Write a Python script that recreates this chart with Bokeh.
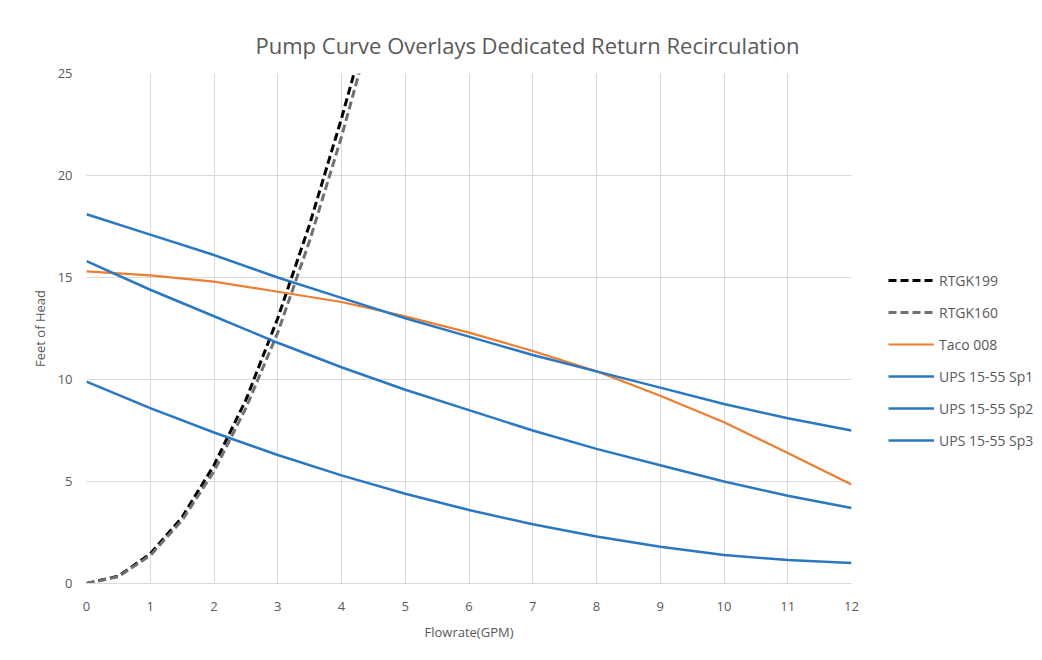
from bokeh.plotting import figure
from bokeh.models import Range1d, FixedTicker, Legend, LegendItem, Title
from bokeh.embed import file_html
from bokeh.resources import INLINE

# Flowrate (GPM) and head (ft)
rtgk199_x = [0, 0.5, 1, 1.5, 2, 2.5, 3, 3.5, 4, 4.25]
rtgk199_y = [0, 0.36, 1.45, 3.25, 5.8, 9.0, 13.0, 17.6, 22.8, 25.6]
rtgk160_x = [0, 0.5, 1, 1.5, 2, 2.5, 3, 3.5, 4, 4.3]
rtgk160_y = [0, 0.34, 1.37, 3.1, 5.5, 8.6, 12.3, 16.8, 21.9, 25.3]
flow = [0, 1, 2, 3, 4, 5, 6, 7, 8, 9, 10, 11, 12]
taco008 = [15.3, 15.1, 14.8, 14.3, 13.8, 13.1, 12.3, 11.4, 10.4, 9.2, 7.9, 6.4, 4.85]
ups_sp1 = [18.1, 17.1, 16.1, 15.0, 14.0, 13.0, 12.1, 11.2, 10.4, 9.6, 8.8, 8.1, 7.5]
ups_sp2 = [15.8, 14.4, 13.1, 11.8, 10.6, 9.5, 8.5, 7.5, 6.6, 5.8, 5.0, 4.3, 3.7]
ups_sp3 = [9.9, 8.6, 7.4, 6.3, 5.3, 4.4, 3.6, 2.9, 2.3, 1.8, 1.4, 1.15, 1.0]
x_ticks = list(range(0, 13))
y_ticks = [0, 5, 10, 15, 20, 25]

TXT = "#595959"
GRID = "#d9d9d9"
FONT = "Open Sans"

p = figure(frame_width=765, frame_height=510, output_backend="svg", toolbar_location=None,
           x_range=Range1d(0, 12), y_range=Range1d(0, 25),
           min_border_left=86, min_border_right=175, min_border_top=73, min_border_bottom=61)
p.outline_line_color = None
p.background_fill_color = "white"
p.border_fill_color = "white"

t = Title(text="Pump Curve Overlays Dedicated Return Recirculation", align="left",
          offset=169, text_font=FONT, text_font_size="22px", text_font_style="normal",
          text_color=TXT, standoff=28)
p.add_layout(t, "above")

for ax in (p.xaxis[0], p.yaxis[0]):
    ax.major_tick_line_color = None
    ax.minor_tick_line_color = None
    ax.major_label_text_color = TXT
    ax.major_label_text_font = FONT
    ax.major_label_text_font_size = "13px"
    ax.axis_label_text_color = TXT
    ax.axis_label_text_font = FONT
    ax.axis_label_text_font_size = "13px"
    ax.axis_label_text_font_style = "normal"

p.xaxis.ticker = FixedTicker(ticks=x_ticks)
p.yaxis.ticker = FixedTicker(ticks=y_ticks)
p.xaxis.axis_label = "Flowrate(GPM)"
p.yaxis.axis_label = "Feet of Head"
p.xaxis.axis_line_color = GRID
p.yaxis.axis_line_color = None
p.xaxis.major_label_standoff = 12
p.yaxis.major_label_standoff = 8
p.xaxis.axis_label_standoff = 9
p.yaxis.axis_label_standoff = 6

p.xgrid.grid_line_color = GRID
p.ygrid.grid_line_color = GRID
p.xgrid.ticker = FixedTicker(ticks=x_ticks)
p.ygrid.ticker = FixedTicker(ticks=y_ticks)

BLUE = "#2a78c2"
r1 = p.line(rtgk199_x, rtgk199_y, line_color="#000000", line_width=3, line_dash="8 4")
r2 = p.line(rtgk160_x, rtgk160_y, line_color="#707070", line_width=3, line_dash="8 4")
r3 = p.line(flow, taco008, line_color="#ed7d31", line_width=2.2)
r4 = p.line(flow, ups_sp1, line_color=BLUE, line_width=2.5)
r5 = p.line(flow, ups_sp2, line_color=BLUE, line_width=2.5)
r6 = p.line(flow, ups_sp3, line_color=BLUE, line_width=2.5)

legend = Legend(items=[
    LegendItem(label="RTGK199", renderers=[r1]),
    LegendItem(label="RTGK160", renderers=[r2]),
    LegendItem(label="Taco 008", renderers=[r3]),
    LegendItem(label="UPS 15-55 Sp1", renderers=[r4]),
    LegendItem(label="UPS 15-55 Sp2", renderers=[r5]),
    LegendItem(label="UPS 15-55 Sp3", renderers=[r6]),
], location=(37, 133))
legend.background_fill_alpha = 0
legend.border_line_color = None
legend.label_text_color = TXT
legend.label_text_font = FONT
legend.label_text_font_size = "14px"
legend.glyph_width = 46
legend.label_standoff = 5
legend.spacing = 12
legend.label_height = 20
legend.glyph_height = 20
legend.padding = 0
legend.margin = 0
p.add_layout(legend, "right")

open("out.html", "w").write(file_html(p, INLINE))
